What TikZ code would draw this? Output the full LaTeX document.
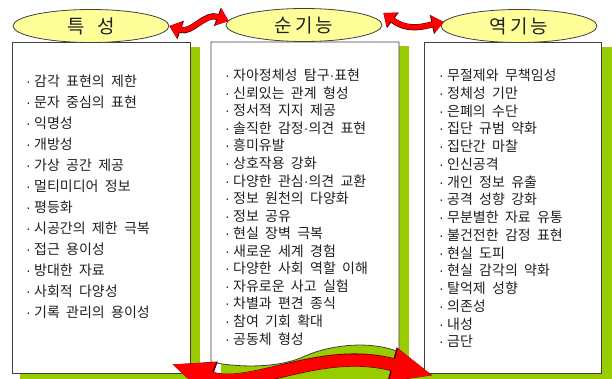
\documentclass[tikz,border=0pt]{standalone}
\usepackage{fontspec}
\newfontfamily\kr[WordSpace=2]{Noto Sans CJK KR}
\newfontfamily\latn{Liberation Sans}
\usetikzlibrary{shapes.geometric,arrows.meta,calc}
\definecolor{shadowgreen}{HTML}{99CC00}
\definecolor{ellfill}{HTML}{FFFF99}
\definecolor{edgegray}{HTML}{404040}
\definecolor{txt}{HTML}{202020}
\definecolor{arrowred}{HTML}{FF0000}
\newcommand\bdot{\makebox[8pt][l]{\latn·}}
\newcommand\mdot{{\latn·}}
\tikzset{
  shadowbox/.style={fill=shadowgreen},
  whitebox/.style={draw=edgegray, line width=0.8pt, fill=white, inner sep=0pt, anchor=north west},
  ell/.style={ellipse, draw=edgegray, line width=0.8pt, fill=ellfill, minimum width=156pt, minimum height=33pt, inner sep=0pt, font=\kr\fontsize{19}{19}\selectfont, text=txt},
  listtxt/.style={align=left, inner sep=0pt, anchor=north west, text=txt},
  redline/.style={draw=arrowred, line width=5pt, {Triangle[length=11pt,width=17pt]}-{Triangle[length=11pt,width=17pt]}},
  redoutline/.style={draw=black!70!red, line width=6.2pt, {Triangle[length=12pt,width=19pt]}-{Triangle[length=12pt,width=19pt]}},
  bigred/.style={draw=arrowred, line width=12pt, {Triangle[length=42pt,width=30pt]}-{Triangle[length=42pt,width=30pt]}},
  bigoutline/.style={draw=black!70!red, line width=13.2pt, {Triangle[length=43.5pt,width=32pt]}-{Triangle[length=43.5pt,width=32pt]}}
}
\begin{document}
\begin{tikzpicture}[x=1pt,y=-1pt]
\path[use as bounding box] (0,0) rectangle (612,378);
\clip (0,0) rectangle (612,378);
\fill[white] (0,0) rectangle (612,378);
% green shadows
\fill[shadowbox] (20,47) rectangle (200,380);
\fill[shadowbox] (221,46) rectangle (409,380);
\fill[shadowbox] (434,47) rectangle (612,380);
\fill[shadowbox] (20,373) rectangle (612,380);
% white boxes
\node[whitebox, minimum width=178pt, minimum height=331pt] (lbox) at (12,42) {};
\node[whitebox, minimum width=177pt, minimum height=331pt] (rbox) at (424,42) {};
\draw[edgegray, line width=0.8pt, fill=white] (211,42) -- (399,42) -- (399,352)
  .. controls (370,340) and (330,345) .. (305,356)
  .. controls (280,368) and (240,368) .. (211,362) -- cycle;
\coordinate (mbox) at (305,42);
% ellipses
\node[ell] (char) at (91,26) {특\hspace{13pt}성};
\node[ell] (pos) at (304,25) {순\hspace{3pt}기\hspace{3pt}능};
\node[ell] (neg) at (519,26) {역\hspace{3pt}기\hspace{3pt}능};
% lists
\node[listtxt, font=\kr\fontsize{14}{21}\selectfont] (ltxt) at (26,75) {%
\bdot 감각 표현의 제한\\
\bdot 문자 중심의 표현\\
\bdot 익명성\\
\bdot 개방성\\
\bdot 가상 공간 제공\\
\bdot 멀티미디어 정보\\
\bdot 평등화\\
\bdot 시공간의 제한 극복\\
\bdot 접근 용이성\\
\bdot 방대한 자료\\
\bdot 사회적 다양성\\
\bdot 기록 관리의 용이성};
\node[listtxt, font=\kr\fontsize{14}{17.55}\selectfont] (mtxt) at (225,69) {%
\bdot 자아정체성 탐구\mdot 표현\\
\bdot 신뢰있는 관계 형성\\
\bdot 정서적 지지 제공\\
\bdot 솔직한 감정\mdot 의견 표현\\
\bdot 흥미유발\\
\bdot 상호작용 강화\\
\bdot 다양한 관심\mdot 의견 교환\\
\bdot 정보 원천의 다양화\\
\bdot 정보 공유\\
\bdot 현실 장벽 극복\\
\bdot 새로운 세계 경험\\
\bdot 다양한 사회 역할 이해\\
\bdot 자유로운 사고 실험\\
\bdot 차별과 편견 종식\\
\bdot 참여 기회 확대\\
\bdot 공동체 형성};
\node[listtxt, font=\kr\fontsize{14}{17.73}\selectfont] (rtxt) at (439,69) {%
\bdot 무절제와 무책임성\\
\bdot 정체성 기만\\
\bdot 은폐의 수단\\
\bdot 집단 규범 약화\\
\bdot 집단간 마찰\\
\bdot 인신공격\\
\bdot 개인 정보 유출\\
\bdot 공격 성향 강화\\
\bdot 무분별한 자료 유통\\
\bdot 불건전한 감정 표현\\
\bdot 현실 도피\\
\bdot 현실 감각의 약화\\
\bdot 탈억제 성향\\
\bdot 의존성\\
\bdot 내성\\
\bdot 금단};
% top curved arrows
\coordinate (a1s) at (char.east);
\coordinate (a1e) at ($(pos.west)+(3,-4)$);
\draw[redoutline] (a1s) .. controls (192,34) and (205,12) .. (a1e);
\draw[redline] (a1s) .. controls (192,34) and (205,12) .. (a1e);
\coordinate (a2s) at ($(pos.east)+(1,-12)$);
\coordinate (a2e) at ($(neg.west)+(3,-4)$);
\draw[redoutline] (a2s) .. controls (408,32) and (425,26) .. (a2e);
\draw[redline] (a2s) .. controls (408,32) and (425,26) .. (a2e);
% bottom curved arrow
\coordinate (b1s) at ($(lbox.south east)+(-20,-10)$);
\coordinate (b1e) at ($(rbox.south west)+(10,2)$);
\draw[bigoutline] (b1s) .. controls (250,392) and (320,345) .. (b1e);
\draw[bigred] (b1s) .. controls (250,392) and (320,345) .. (b1e);
\end{tikzpicture}
\end{document}
